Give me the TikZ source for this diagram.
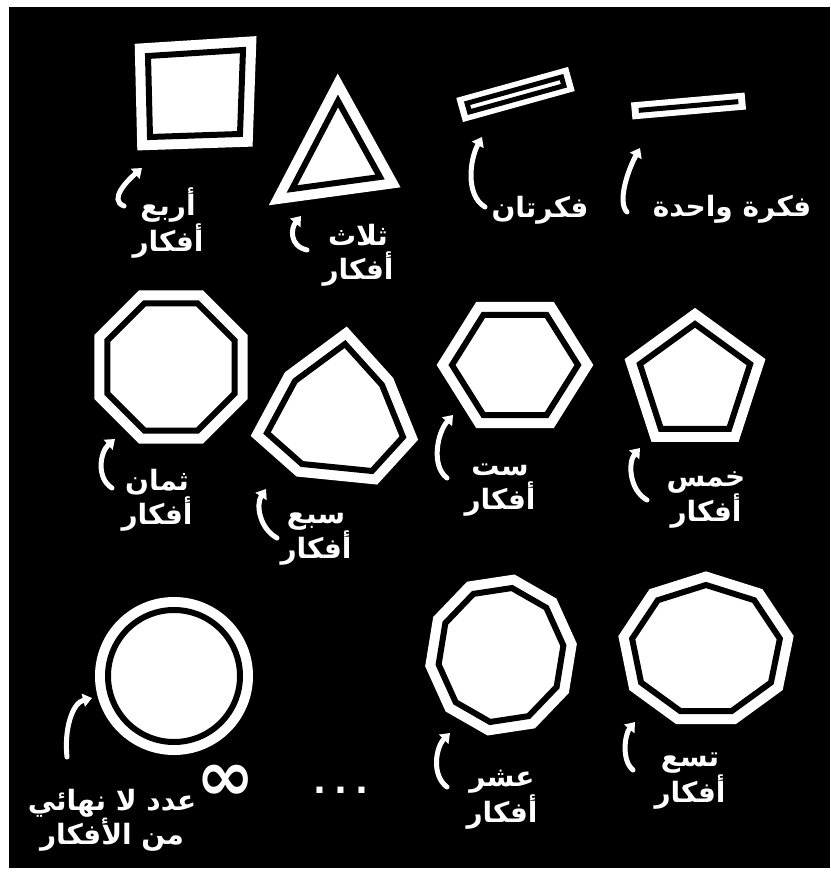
\documentclass[tikz,border=0pt]{standalone}
\usepackage{fontspec}
\usepackage{tikz}
\usetikzlibrary{arrows.meta}
\newfontfamily\arabicfont[Script=Arabic]{DejaVu Sans}
\newfontfamily\symbfont{DejaVu Sans}
\TeXXeTstate=1
\tikzset{
  ideashape/.style={draw=black, line width=6pt, fill=white, line join=miter,
    preaction={draw=white, line width=26pt, line join=miter}},
  ideabar/.style={fill=white},
  idealine/.style={draw=black, line width=5pt},
  ideaarrow/.style={-{Triangle[length=9pt, width=13pt]}, white, line width=5pt, line cap=round},
  idealabel/.style={text=white, align=center, inner sep=0pt,
    font=\arabicfont\bfseries\fontsize{28}{34}\selectfont},
  ideasym/.style={text=white, inner sep=0pt},
}

\begin{document}
\begin{tikzpicture}[x=1pt, y=-1pt]
  \useasboundingbox (0,0) rectangle (830,874);
  \fill[black] (9,7) rectangle (830,868);

  % one to four ideas
  \draw[ideashape] (148,56) -- (243,50) -- (240,134) -- (150,137) -- cycle;
  \draw[ideashape] (338,101) -- (380,177) -- (292,189) -- cycle;
  \begin{scope}[shift={(515.5,94.5)}, rotate=15.5]
    \fill[ideabar] (-58,-12.5) rectangle (58,12.5);
    \draw[idealine] (-49,-4.5) rectangle (49,4.5);
  \end{scope}
  \begin{scope}[shift={(688.5,106)}, rotate=5]
    \fill[ideabar] (-57,-8.5) rectangle (57,8.5);
    \draw[idealine] (-50,0) -- (50,0);
  \end{scope}

  % five to ten ideas, and the circle
  \foreach \cx/\cy/\n/\rx/\ry/\rot in {
      171/367/8/69/69/22.5, 515/365/6/63/58/0, 695/382/5/58/58/-90,
      706/650/9/75/65/-90, 501/655/10/63/68/-80} {
    \pgfmathtruncatemacro\last{\n-1}
    \draw[ideashape] ({\cx+\rx*cos(\rot)}, {\cy+\ry*sin(\rot)})
      \foreach \k in {1,...,\last} {
        -- ({\cx+\rx*cos(\rot+360*\k/\n)}, {\cy+\ry*sin(\rot+360*\k/\n)})
      } -- cycle;
  }
  \draw[ideashape] (345,344) -- (382,385) -- (403,437) -- (372,471)
    -- (302,464) -- (267,433) -- (295,381) -- cycle;
  \draw[ideashape] (174,676) circle[radius=66pt];

  % labels
  \node[idealabel] (one) at (732,209) {\beginR فكرة واحدة\endR};
  \node[idealabel] (two) at (540,210) {\beginR فكرتان\endR};
  \node[idealabel] (three) at (358,255) {\beginR ثلاث\endR\\\beginR أفكار\endR};
  \node[idealabel] (four) at (168,223) {\beginR أربع\endR\\\beginR أفكار\endR};
  \node[idealabel] (five) at (706,500) {\beginR خمس\endR\\\beginR أفكار\endR};
  \node[idealabel] (six) at (500,490) {\beginR ست\endR\\\beginR أفكار\endR};
  \node[idealabel] (seven) at (316,539) {\beginR سبع\endR\\\beginR أفكار\endR};
  \node[idealabel] (eight) at (157,500) {\beginR ثمان\endR\\\beginR أفكار\endR};
  \node[idealabel] (nine) at (690,781) {\beginR تسع\endR\\\beginR أفكار\endR};
  \node[idealabel] (ten) at (502,800) {\beginR عشر\endR\\\beginR أفكار\endR};
  \node[idealabel] (many) at (112,820) {\beginR عدد لا نهائي\endR\\\beginR من الأفكار\endR};
  \node[ideasym, font=\symbfont\bfseries\fontsize{70}{70}\selectfont] (inf) at (226,783) {∞};
  \node[ideasym, font=\symbfont\bfseries\fontsize{34}{34}\selectfont] (dots) at (341,790) {.\hspace{8pt}.\hspace{8pt}.};

  % arrows
  \foreach \id/\tx/\ty/\hx/\hy/\ax/\ay/\bx/\by in {
      four/124/206/142/168/-16/-6/-14/12,
      three/307/250/301/216/-18/-4/-10/12,
      two/485/207/482/137/-20/-12/-12/22,
      one/627/212/640/148/-10/-10/-12/22,
      eight/112/488/115/439/-16/-10/-15/13,
      seven/277/538/266/489/-18/-10/-10/15,
      six/447/478/453/415/-16/-12/-16/18,
      five/647/500/640/448/-18/-10/-12/14,
      many/67/757/92/698/-3/-27/-20/5,
      ten/447/787/450/733/-16/-12/-14/14,
      nine/633/770/635/722/-12/-10/-10/12} {
    \coordinate (\id-tail) at (\tx,\ty);
    \coordinate (\id-head) at (\hx,\hy);
    \draw[ideaarrow] (\id-tail) .. controls +(\ax,\ay) and +(\bx,\by) .. (\id-head);
  }
\end{tikzpicture}
\end{document}
